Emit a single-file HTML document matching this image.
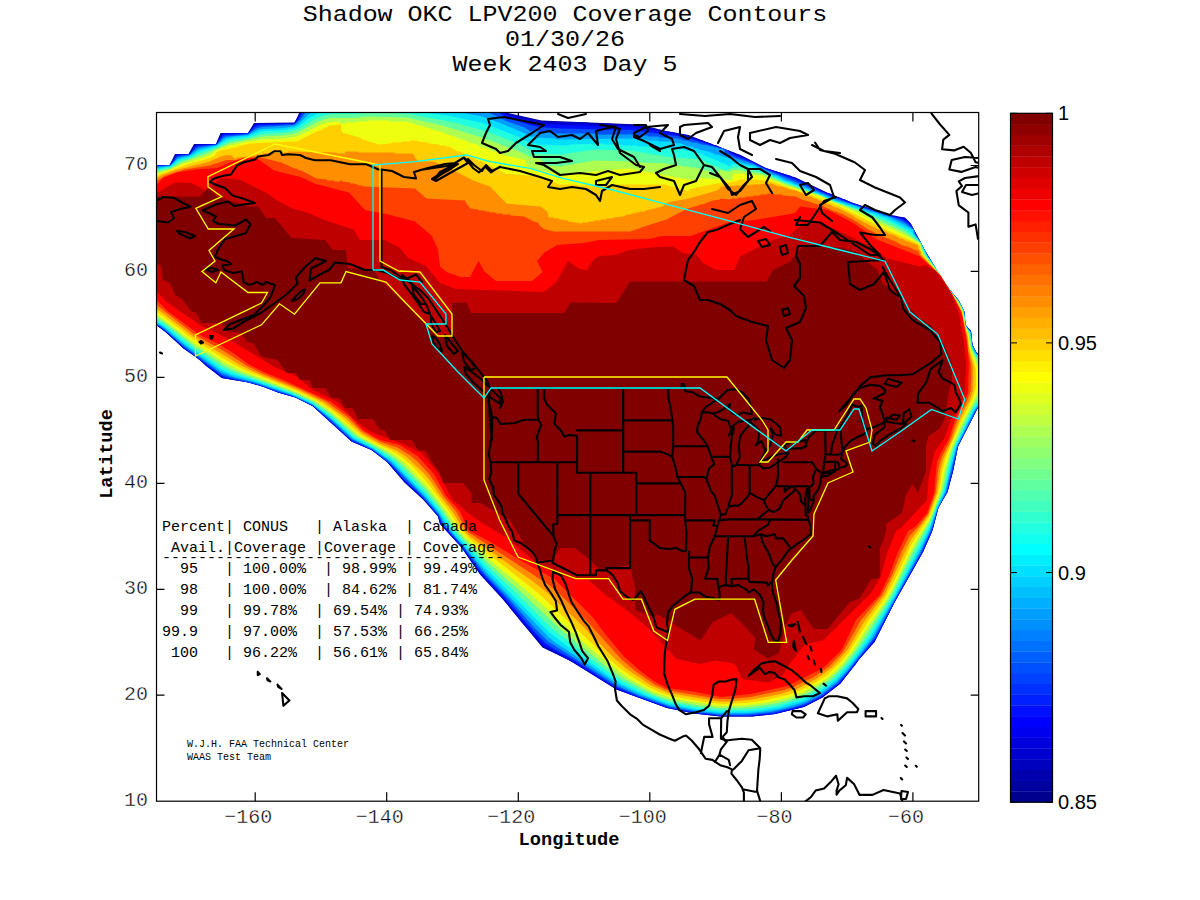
<!DOCTYPE html><html><head><meta charset="utf-8"><style>html,body{margin:0;padding:0;background:#fff;width:1200px;height:900px;overflow:hidden}svg{display:block}text{font-family:"Liberation Mono",monospace}</style></head><body><svg width="1200" height="900" viewBox="0 0 1200 900"><rect width="1200" height="900" fill="#fff"/><path d="M255.2 801.2v-9M255.2 112.5v9M386.7 801.2v-9M386.7 112.5v9M518.3 801.2v-9M518.3 112.5v9M649.8 801.2v-9M649.8 112.5v9M781.4 801.2v-9M781.4 112.5v9M912.9 801.2v-9M912.9 112.5v9M156.5 695.2h8M978.7 695.2h-8M156.5 589.3h8M978.7 589.3h-8M156.5 483.3h8M978.7 483.3h-8M156.5 377.4h8M978.7 377.4h-8M156.5 271.4h8M978.7 271.4h-8M156.5 165.5h8M978.7 165.5h-8" stroke="#000" stroke-width="1.2" fill="none"/><defs><clipPath id="ax"><rect x="156.5" y="112.5" width="822.2" height="688.7"/></clipPath></defs><g clip-path="url(#ax)"><path fill-rule="evenodd" fill="#00008F" d="M140.0,165.0 140.0,325.5 157.5,326.0 165.5,332.0 183.5,348.5 194.5,356.0 221.5,378.0 248.5,382.5 264.0,387.0 278.0,392.5 295.5,397.5 312.5,406.0 351.5,441.5 371.5,450.0 387.0,462.0 403.5,481.5 423.5,500.0 438.0,516.5 440.0,524.0 461.0,547.0 480.5,575.0 502.5,599.0 542.5,647.5 569.5,660.5 616.5,689.5 667.0,708.0 694.0,713.5 720.5,716.5 752.0,716.5 775.0,714.0 804.0,707.0 822.5,697.5 840.5,683.5 859.0,659.5 874.5,642.0 894.5,602.5 923.0,552.0 932.5,530.5 938.5,507.5 947.5,492.0 953.0,471.5 958.0,446.5 977.5,408.5 990.0,400.0 990.0,360.0 976.5,352.5 972.5,345.0 971.0,331.0 965.5,325.0 964.5,312.0 958.5,300.0 949.5,289.5 939.5,274.5 924.5,249.5 910.5,223.0 905.0,217.5 889.5,215.0 852.0,202.5 827.0,192.5 795.5,177.5 766.0,168.0 740.5,155.0 688.5,135.0 666.5,131.0 639.0,124.5 541.5,120.5 505.5,112.5 505.0,100.0 300.0,100.0 299.0,113.5 294.5,122.5 254.0,123.0 248.0,133.0 220.5,133.0 216.0,144.0 194.0,144.0 188.5,154.0 175.0,154.0 169.5,165.0Z"/><path fill-rule="evenodd" fill="#0000CF" d="M140.5,166.5 140.5,323.5 142.0,325.0 157.5,326.0 165.5,332.0 183.5,348.5 200.5,360.5 206.0,366.0 222.0,378.0 248.5,382.5 264.0,387.0 278.0,392.5 295.5,397.5 312.5,406.0 351.5,441.5 371.5,450.0 387.0,462.0 404.0,481.0 404.0,482.0 423.0,499.0 438.0,516.5 440.0,524.0 462.0,548.0 472.0,563.0 475.0,566.0 479.0,573.0 503.0,599.0 523.0,624.0 543.0,647.0 571.5,661.5 616.5,689.5 667.0,708.0 694.0,713.5 720.5,716.5 752.0,716.5 775.0,714.0 804.0,707.0 822.5,697.5 840.5,683.5 859.0,659.5 874.5,642.0 894.5,602.5 923.0,552.0 932.5,530.5 938.5,507.5 947.5,492.0 953.0,471.5 958.0,446.5 977.5,408.5 990.0,400.0 990.0,360.5 976.5,352.5 972.5,345.0 971.0,331.0 965.5,325.0 964.5,312.0 958.5,300.0 949.5,289.5 939.5,274.5 924.5,249.5 911.0,224.0 905.5,218.5 902.5,217.0 898.0,217.0 897.0,216.0 888.5,215.0 887.5,214.0 852.5,203.0 844.0,199.0 842.0,199.0 841.5,198.0 837.0,197.0 829.0,193.0 827.0,193.0 794.0,177.0 792.0,177.0 791.0,176.0 765.5,168.0 738.0,154.0 736.0,154.0 733.0,152.0 731.0,152.0 715.5,145.0 713.5,145.0 710.0,143.0 705.0,142.0 702.0,140.0 700.0,140.0 687.0,135.0 656.5,129.5 655.0,128.5 651.5,128.5 650.0,127.5 646.5,127.5 640.5,125.5 633.0,125.5 631.5,124.5 613.0,124.5 611.0,123.5 590.0,123.5 588.0,122.5 542.0,121.5 506.0,113.0 505.0,112.0 505.0,108.5 503.0,103.5 501.0,102.0 497.0,101.0 442.5,100.0 306.5,100.5 304.0,101.0 301.5,103.0 298.0,117.5 294.0,123.0 254.5,123.5 248.0,133.0 223.0,133.0 220.5,134.5 216.0,144.0 194.5,144.5 189.0,154.0 175.5,154.5 171.0,164.0 169.5,165.0 143.5,165.0Z"/><path fill-rule="evenodd" fill="#0010FF" d="M141.5,168.0 140.0,176.0 140.0,310.5 140.5,317.0 142.0,322.0 146.0,324.5 155.0,325.0 158.0,326.0 168.5,334.0 183.5,348.0 196.0,356.5 205.5,365.0 221.5,377.0 228.5,379.0 232.5,379.0 233.5,380.0 237.0,380.0 238.5,381.0 242.5,381.0 259.5,385.5 278.0,392.5 295.5,397.5 313.5,406.5 351.5,441.0 372.5,450.5 386.5,461.0 404.5,481.5 424.0,499.5 438.5,516.5 441.5,525.0 463.0,548.5 480.5,573.5 508.0,603.5 529.0,629.0 544.0,645.5 571.5,660.5 612.5,686.5 629.0,694.0 667.5,708.0 671.0,708.0 672.5,709.0 676.0,709.0 677.5,710.0 681.0,710.0 692.5,713.0 697.0,713.0 698.5,714.0 706.0,714.0 707.5,715.0 715.0,715.0 716.5,716.0 755.5,716.0 757.5,715.0 774.5,714.0 805.5,706.0 822.5,697.0 840.5,683.0 856.0,664.0 859.5,658.5 875.0,640.5 896.0,599.5 923.0,552.0 931.0,534.0 938.5,507.5 947.5,492.0 953.5,469.0 958.0,446.5 977.5,408.5 987.0,401.5 989.5,398.0 989.5,362.5 986.5,359.0 978.0,354.0 974.5,349.5 972.0,342.5 971.0,331.0 965.5,325.0 964.5,312.0 958.5,300.0 949.5,289.5 939.5,274.5 925.5,251.5 911.0,224.5 906.0,220.0 902.0,218.0 892.5,216.5 847.5,201.5 825.0,192.5 794.0,178.0 764.5,168.0 750.0,160.5 734.0,154.0 728.0,150.0 726.0,150.0 723.0,148.0 721.0,148.0 688.0,136.5 642.0,128.0 627.5,126.5 565.0,125.0 541.0,123.5 508.5,115.5 505.5,114.0 502.0,109.0 498.5,106.0 493.5,104.0 486.5,103.0 423.0,101.0 315.5,101.5 309.0,102.5 305.5,104.0 303.0,106.5 296.0,122.0 293.5,123.5 258.0,124.0 254.5,125.5 248.5,133.0 223.5,134.0 220.5,136.5 216.5,144.0 197.0,145.0 193.5,147.5 189.5,154.0 176.5,155.0 173.5,158.5 170.5,165.0 147.0,165.5Z"/><path fill-rule="evenodd" fill="#0050FF" d="M143.0,169.0 141.0,173.5 140.0,180.0 140.0,305.5 141.5,316.0 143.0,320.0 148.0,323.5 159.0,326.0 167.0,332.0 183.5,347.0 221.5,375.5 227.0,377.5 259.5,385.0 278.0,392.0 292.5,396.0 313.5,406.0 352.0,440.5 372.5,450.0 392.0,465.5 404.5,480.0 420.5,495.0 438.5,515.5 442.0,524.0 462.0,546.5 481.0,572.0 503.5,596.0 533.5,631.0 545.0,643.0 555.5,650.0 573.0,659.5 615.0,686.5 639.5,697.0 669.0,707.5 700.5,713.5 706.0,713.5 718.5,715.5 750.5,715.5 774.0,713.0 805.0,705.0 822.0,696.0 839.0,683.0 875.0,638.5 896.0,598.5 922.0,552.0 931.5,531.0 938.0,508.5 947.0,492.0 958.0,446.0 977.0,409.0 987.0,399.5 988.5,396.0 988.5,364.0 985.5,359.5 977.0,353.5 972.5,345.5 971.0,331.5 965.5,325.0 964.5,312.0 959.0,301.0 949.5,289.5 939.5,274.5 925.5,251.5 917.0,235.5 915.0,233.5 914.5,230.5 909.0,224.0 902.0,219.5 851.5,203.5 826.5,194.0 795.5,180.0 765.5,169.0 752.5,162.5 735.0,156.0 730.0,153.5 728.5,152.0 728.5,150.5 726.0,150.5 723.0,148.0 720.0,148.0 690.5,139.0 677.0,136.0 630.0,130.0 559.5,128.5 539.0,127.0 531.5,125.5 509.5,118.5 505.0,116.5 494.0,109.0 486.5,107.0 475.0,105.5 411.0,102.5 323.0,103.0 315.0,104.0 307.0,107.0 304.0,110.0 298.0,120.5 294.0,124.0 259.0,125.5 254.5,127.5 248.5,133.5 225.5,135.0 223.0,136.0 216.0,144.5 198.5,146.0 196.0,147.0 189.5,154.5 181.0,155.0 176.5,156.5 170.5,165.0 148.0,166.5Z"/><path fill-rule="evenodd" fill="#009FFF" d="M144.0,170.5 142.0,174.0 140.0,182.5 140.0,303.0 142.0,313.0 144.0,318.0 147.0,321.0 156.5,324.0 161.0,326.5 184.0,346.0 222.0,374.0 234.0,378.0 252.0,382.0 297.5,397.5 312.5,405.0 330.0,419.0 351.5,439.0 372.0,449.0 387.5,460.0 424.0,497.0 439.5,515.5 443.5,524.0 464.5,548.0 484.5,573.5 509.0,599.0 534.5,628.0 547.5,641.0 617.5,686.0 637.5,695.0 669.5,706.5 698.0,712.0 720.0,714.5 745.0,714.5 771.5,712.0 794.0,707.0 806.0,703.0 821.0,695.0 836.5,683.5 848.0,671.0 874.0,637.5 921.0,551.5 932.0,527.5 938.0,507.5 946.0,492.5 957.0,447.0 975.0,411.0 978.0,406.5 985.0,399.5 987.0,395.0 988.0,388.5 987.5,366.5 985.0,361.0 977.0,354.0 972.0,345.0 972.0,339.5 971.0,338.0 971.0,332.5 965.5,325.5 964.0,311.0 959.0,301.0 949.5,289.5 928.0,256.5 921.5,243.5 915.0,234.5 914.0,230.0 904.0,222.5 893.5,218.0 836.0,199.0 762.0,168.5 753.5,164.0 733.5,157.5 725.5,153.0 723.0,148.5 718.5,148.5 718.0,147.5 715.0,147.5 714.0,146.5 710.0,146.5 709.0,145.5 701.0,144.5 696.0,142.5 692.0,142.5 687.0,140.5 683.0,140.5 678.0,138.5 659.5,137.5 658.5,136.5 648.5,136.5 647.5,135.5 636.5,135.5 635.5,134.5 596.5,134.5 595.5,133.5 553.5,133.5 552.5,132.5 538.5,132.5 537.5,131.5 530.5,131.5 524.5,127.5 506.0,121.0 490.0,113.0 479.5,110.5 464.5,108.5 405.0,104.5 328.5,105.0 317.5,106.5 309.5,109.5 304.0,114.5 300.5,119.5 294.0,125.0 261.5,127.0 255.5,129.0 247.5,134.5 226.0,136.5 223.0,138.0 217.0,144.5 199.0,147.5 196.0,149.0 189.5,155.0 177.5,157.5 170.5,165.5 152.0,167.0 148.0,168.0Z"/><path fill-rule="evenodd" fill="#00DFFF" d="M144.0,173.0 140.0,183.5 140.0,302.0 145.0,316.0 150.0,320.5 157.0,323.0 163.5,327.0 185.5,345.5 220.5,371.0 234.0,376.5 258.5,383.0 291.5,394.5 313.0,404.5 332.5,420.0 353.5,439.0 373.5,449.0 391.0,461.5 427.0,498.5 439.0,513.0 444.0,522.0 452.0,532.5 485.5,571.5 549.0,637.5 556.0,643.0 617.0,683.5 639.0,694.0 669.0,705.0 700.0,711.0 717.5,713.0 748.5,713.0 764.0,711.5 779.5,709.0 804.0,702.0 819.5,694.0 837.0,681.0 847.5,669.5 871.5,638.5 896.5,594.5 919.5,551.5 929.5,531.0 937.5,507.5 945.0,492.5 956.5,446.5 974.0,411.0 983.0,399.5 985.5,394.0 986.5,387.5 986.0,367.5 983.5,361.5 976.0,353.5 972.5,347.0 970.5,332.5 965.5,325.5 964.0,311.5 959.0,301.5 948.5,288.5 933.0,263.5 928.0,257.0 921.0,243.0 913.5,233.5 913.0,229.5 887.0,216.5 885.0,216.5 875.0,212.5 872.0,212.5 850.5,204.5 847.5,204.5 846.5,203.5 835.5,200.5 832.5,198.5 830.5,198.5 827.5,196.5 825.5,196.5 822.5,194.5 820.5,194.5 817.5,192.5 815.5,192.5 812.5,190.5 810.5,190.5 807.5,188.5 805.5,188.5 802.5,186.5 800.5,186.5 797.5,184.5 795.5,184.5 792.5,182.5 785.5,180.5 776.5,175.5 774.5,175.5 754.0,165.5 744.0,163.5 736.0,160.5 733.0,160.5 730.0,158.5 728.5,158.5 728.0,157.5 724.5,157.5 724.0,156.5 721.5,156.5 718.5,154.5 715.5,154.5 708.5,151.5 698.5,149.5 697.5,148.5 695.5,148.5 691.5,146.5 688.5,146.5 681.0,143.5 671.0,142.5 670.0,141.5 659.0,141.5 658.0,140.5 648.0,140.5 647.0,139.5 636.0,139.5 635.0,138.5 556.5,139.5 555.5,138.5 536.0,137.5 535.0,136.5 530.0,136.5 523.0,132.5 490.0,119.0 480.0,116.0 463.5,113.0 424.5,108.5 402.5,107.0 332.0,107.5 315.5,110.5 309.0,114.0 298.5,124.0 294.0,126.5 283.5,128.0 262.5,129.0 257.0,130.5 247.5,135.5 234.5,136.5 225.5,138.5 216.5,145.5 199.0,149.5 189.0,156.0 181.0,157.5 177.0,159.5 170.0,166.0 151.5,168.5 147.5,170.0Z"/><path fill-rule="evenodd" fill="#20FFDF" d="M144.0,175.5 140.0,184.0 140.0,301.5 142.5,308.0 147.0,315.5 150.5,318.5 163.5,325.5 186.0,344.0 221.0,369.0 230.5,373.5 248.0,378.5 292.5,394.0 311.0,402.5 329.5,416.0 353.5,437.5 374.5,448.5 392.0,460.5 426.0,495.0 440.0,512.0 453.0,531.5 485.5,568.0 549.5,632.5 569.0,647.5 606.5,674.0 621.5,683.5 648.0,696.0 667.5,703.0 694.0,708.5 717.5,711.5 746.0,711.5 762.0,710.0 780.0,707.0 802.5,700.5 820.0,691.5 836.0,679.5 852.0,661.5 870.5,636.5 895.0,594.5 925.0,537.5 931.0,524.5 938.0,504.5 944.5,491.0 951.5,460.5 956.0,445.5 972.5,411.5 981.5,398.5 984.0,392.0 985.0,383.5 984.0,367.0 982.5,363.0 974.5,352.5 972.0,347.0 970.0,332.5 965.5,326.0 965.0,317.0 964.0,315.5 963.5,311.0 959.0,302.0 948.5,288.5 939.0,273.0 927.5,257.0 922.5,248.0 921.0,243.5 910.5,231.0 886.5,218.5 835.0,201.0 822.0,195.0 820.0,195.0 811.5,191.0 783.0,180.5 753.5,167.5 738.0,164.0 732.5,164.0 729.5,166.5 724.5,163.5 722.5,163.5 717.5,160.5 704.0,155.5 701.0,153.5 693.0,152.5 692.0,151.5 684.0,150.5 683.0,149.5 679.0,149.5 678.0,148.5 654.5,147.5 653.5,146.5 638.5,146.5 637.5,145.5 622.5,145.5 621.5,144.5 604.5,144.5 603.5,143.5 569.5,144.5 568.5,145.5 538.0,144.5 537.0,143.5 530.5,143.5 519.0,137.0 482.5,123.0 450.5,116.0 415.0,111.0 402.0,110.0 371.0,109.5 334.0,110.5 325.5,111.5 316.5,114.0 308.5,118.5 299.0,126.0 293.5,128.5 285.0,130.0 264.5,131.0 258.0,132.5 246.5,137.0 232.5,138.5 227.0,140.0 215.0,147.0 200.5,151.0 191.0,156.5 180.0,159.5 170.5,166.5 150.5,170.5Z"/><path fill-rule="evenodd" fill="#60FF9F" d="M143.0,179.0 140.0,184.5 140.0,301.0 146.5,312.0 150.5,316.0 164.0,324.0 191.5,346.0 222.0,367.0 237.5,374.0 255.5,379.5 292.5,393.0 313.0,402.5 331.5,416.0 354.5,436.5 371.5,445.5 389.5,456.5 397.5,463.0 424.0,490.0 438.5,507.5 455.5,532.0 469.5,547.5 495.0,573.5 511.0,588.0 553.0,629.5 605.0,669.5 620.5,680.0 644.5,692.5 670.0,702.0 699.0,707.5 720.0,710.0 739.0,710.0 758.5,708.5 779.5,705.0 801.5,698.5 820.0,689.0 833.0,679.5 848.5,663.0 868.0,636.5 892.5,596.0 930.0,524.0 936.5,506.0 942.0,494.5 945.0,484.5 949.5,463.0 954.5,446.5 973.0,408.0 978.5,400.0 981.5,393.5 983.0,384.5 983.0,373.0 982.0,367.0 979.5,361.0 974.5,354.0 972.0,348.5 969.5,333.0 965.0,325.0 965.0,319.0 963.0,310.5 958.5,301.5 952.0,293.5 939.0,273.0 925.5,255.0 920.5,243.0 906.0,230.5 888.0,221.5 855.5,208.5 835.0,201.5 819.0,194.5 785.0,182.5 766.5,174.0 754.5,170.0 742.5,167.5 734.0,167.0 725.5,170.5 725.0,169.5 722.5,169.5 717.5,166.5 713.0,165.5 701.0,159.5 663.5,156.5 662.5,155.5 651.0,154.5 650.0,153.5 645.0,153.5 644.0,152.5 639.0,152.5 638.0,151.5 633.0,151.5 632.0,150.5 592.5,149.5 591.5,150.5 585.5,150.5 584.5,151.5 578.5,151.5 577.5,152.5 571.5,152.5 570.5,153.5 564.5,153.5 563.5,154.5 531.5,153.5 529.0,149.5 518.0,143.5 489.5,132.5 457.0,123.0 409.5,114.0 392.5,113.0 365.5,113.0 354.0,114.0 333.0,114.0 326.0,115.0 315.5,118.5 301.5,127.5 295.0,130.5 284.5,132.5 262.0,134.0 249.0,138.0 230.0,141.0 215.5,148.0 198.5,154.0 191.0,158.0 180.5,161.0 171.5,167.0 152.5,171.5 146.5,175.0Z"/><path fill-rule="evenodd" fill="#AFFF50" d="M140.0,185.0 140.0,300.5 145.0,307.5 151.5,314.0 165.5,323.0 192.0,344.0 223.5,365.0 235.5,371.0 293.0,392.0 312.5,401.0 329.5,412.5 356.5,436.0 386.5,452.5 394.0,457.5 404.0,466.0 426.0,489.0 442.0,509.0 451.5,523.5 461.5,536.5 489.0,563.5 524.5,595.0 560.0,629.0 605.0,665.5 622.5,678.0 651.5,693.5 663.0,698.0 674.0,701.0 698.5,705.5 718.5,708.0 747.5,707.5 775.5,703.5 793.0,699.0 810.0,692.0 829.5,679.5 842.5,667.0 858.5,646.5 889.5,598.0 913.0,551.5 930.0,521.0 942.5,489.0 946.5,469.0 952.5,448.5 965.0,420.5 978.5,395.5 980.0,390.5 981.0,382.5 980.0,367.5 971.0,347.5 969.0,333.5 965.0,325.5 963.0,311.5 955.5,297.5 949.0,289.5 939.5,274.0 925.0,255.5 921.5,248.5 920.5,243.5 904.0,232.0 858.5,211.0 834.5,202.0 821.5,196.0 784.5,183.5 762.5,174.0 739.0,170.0 732.5,170.0 728.5,172.0 720.0,170.0 716.5,173.5 714.5,173.5 707.5,170.5 705.0,170.5 701.0,168.5 697.0,168.5 696.0,167.5 690.0,167.5 689.0,166.5 683.0,166.5 682.0,165.5 676.0,165.5 675.0,164.5 669.0,164.5 668.0,163.5 639.5,162.5 638.5,161.5 593.0,160.5 592.0,161.5 587.0,161.5 586.0,162.5 581.0,162.5 580.0,163.5 575.0,163.5 574.0,164.5 569.0,164.5 568.0,165.5 563.0,165.5 562.0,166.5 546.5,165.5 544.5,164.5 543.5,162.0 539.0,158.5 529.5,156.5 516.0,150.0 478.5,136.5 442.5,125.5 406.5,117.5 369.0,116.5 354.0,118.0 330.0,118.0 319.5,121.0 299.0,132.0 293.0,134.0 282.5,135.5 263.5,136.5 229.0,143.5 204.5,154.5 182.5,162.0 170.5,168.5 153.5,173.0 146.0,177.5Z"/><path fill-rule="evenodd" fill="#EFFF10" d="M140.0,185.0 140.0,300.0 146.5,307.0 190.0,340.0 223.5,362.0 240.0,370.5 295.0,391.5 315.0,401.0 329.5,410.5 360.0,436.5 388.5,451.5 397.0,457.0 404.5,463.0 427.5,487.0 446.0,511.0 456.5,527.0 464.0,536.5 490.5,560.5 529.5,593.0 575.5,635.5 607.0,662.5 628.0,678.0 654.5,692.5 674.5,699.0 719.5,706.0 744.5,705.5 767.5,702.5 787.5,698.0 804.0,692.0 823.5,681.0 833.0,673.5 840.0,666.5 853.0,650.5 868.0,626.5 886.5,599.5 894.0,586.0 914.5,544.0 927.5,523.0 931.5,515.0 940.5,491.0 944.5,470.0 950.5,450.0 960.5,426.5 975.0,398.5 977.5,391.5 978.5,385.5 978.0,368.0 970.5,348.5 968.5,334.5 965.0,326.0 964.0,317.0 962.0,310.0 955.5,298.0 948.5,289.0 940.5,275.5 923.5,254.5 921.0,249.0 920.0,243.5 909.5,237.5 889.5,227.5 877.0,222.5 854.0,210.5 852.0,210.5 840.0,204.5 833.0,202.5 821.0,196.5 785.5,185.5 777.0,181.5 775.0,181.5 772.0,179.5 770.0,179.5 767.0,177.5 765.0,177.5 762.0,175.5 746.0,174.5 745.0,173.5 736.0,173.5 733.5,172.5 732.5,178.0 730.5,180.0 700.0,178.0 692.5,180.5 691.5,179.5 686.5,179.5 685.5,178.5 680.5,178.5 679.5,177.5 674.5,177.5 673.5,176.5 668.5,176.5 667.5,175.5 663.5,175.5 662.5,174.5 658.5,174.5 657.5,173.5 653.0,173.5 652.0,172.5 648.0,172.5 647.0,171.5 643.0,171.5 642.0,170.5 638.0,170.5 637.0,169.5 633.0,169.5 632.0,168.5 613.5,169.5 612.5,170.5 601.5,170.5 600.5,171.5 591.5,171.5 590.5,172.5 582.5,172.5 581.5,173.5 574.5,173.5 573.5,174.5 565.0,174.5 564.0,175.5 560.5,175.5 553.5,173.0 531.0,168.5 526.5,165.0 525.5,162.5 526.0,160.5 525.0,159.5 521.0,159.5 520.0,158.5 505.0,155.5 499.0,152.5 491.0,150.5 488.0,148.5 480.0,146.5 477.0,144.5 469.0,142.5 466.0,140.5 458.0,138.5 455.0,136.5 447.0,134.5 444.0,132.5 442.0,132.5 438.0,130.5 435.0,130.5 428.0,127.5 425.0,127.5 421.0,125.5 418.0,125.5 411.0,122.5 408.0,122.5 407.0,121.5 390.0,121.5 389.0,120.5 368.5,120.5 367.5,121.5 357.5,121.5 356.5,122.5 345.5,122.5 345.0,123.5 340.5,123.5 338.5,121.5 329.0,122.0 321.5,124.5 300.5,135.0 293.0,137.5 279.5,139.0 262.5,139.5 248.0,141.5 228.0,146.0 216.5,150.0 212.5,153.5 207.5,156.0 181.0,164.5 171.0,169.5 156.0,174.0 146.5,179.0Z"/><path fill-rule="evenodd" fill="#FFCF00" d="M140.0,185.0 140.5,301.0 162.0,315.5 192.5,339.0 226.5,360.5 245.5,370.5 296.0,390.5 317.0,400.5 333.0,411.0 359.5,434.0 372.0,441.5 393.0,451.5 400.0,456.0 410.5,464.5 424.0,478.5 450.0,512.5 461.5,530.5 469.0,538.5 538.5,593.5 600.0,651.0 619.0,667.5 637.5,680.5 648.5,687.0 660.0,692.5 673.5,696.5 705.0,702.0 722.5,704.0 745.5,703.0 763.5,700.5 788.0,695.0 807.0,687.5 826.0,676.0 839.5,663.5 848.0,653.5 870.0,618.5 884.5,599.0 894.0,581.5 912.5,542.5 930.0,515.5 938.5,493.0 943.0,468.0 947.0,454.5 960.0,423.5 973.0,398.0 976.0,386.5 976.0,369.0 969.5,347.5 967.5,333.0 965.0,327.0 962.0,311.0 956.0,299.5 946.5,286.0 940.5,275.5 923.0,255.5 920.0,248.5 920.5,246.5 917.5,243.5 880.5,227.0 838.5,206.0 802.0,191.5 800.0,191.5 771.5,181.5 758.0,179.5 740.5,179.5 731.0,182.5 719.5,183.0 695.5,187.5 689.5,189.5 688.0,191.5 683.5,189.5 677.0,188.5 673.0,186.5 670.0,186.5 666.0,184.5 613.5,184.5 612.5,185.5 578.0,185.5 577.0,184.5 559.0,184.5 546.0,178.5 544.5,179.5 541.5,179.5 539.5,176.5 505.5,173.5 482.0,161.5 480.0,161.5 471.0,156.5 469.0,156.5 460.0,151.5 458.0,151.5 449.0,146.5 446.0,146.5 445.0,145.5 440.0,145.5 439.0,144.5 429.0,143.5 428.0,142.5 418.0,141.5 417.0,140.5 411.0,140.5 410.0,141.5 402.0,141.5 401.0,142.5 392.0,142.5 391.0,143.5 377.5,144.5 376.5,143.5 362.5,139.5 359.5,137.5 342.5,132.5 341.5,131.0 341.0,124.5 336.5,124.5 336.0,125.5 329.5,125.5 327.0,127.5 325.5,127.5 320.5,130.5 318.5,130.5 296.5,141.5 248.5,143.5 247.5,144.5 244.5,144.5 243.5,145.5 240.5,145.5 235.5,147.5 231.5,147.5 230.5,148.5 219.5,150.5 217.5,151.5 214.0,156.0 210.0,158.0 187.0,164.5 160.5,174.0 146.0,181.0Z"/><path fill-rule="evenodd" fill="#FF8F00" d="M140.0,185.0 140.5,300.5 155.5,307.5 194.5,337.5 241.0,365.5 261.0,375.0 299.5,390.5 324.0,402.5 345.0,418.0 362.5,434.0 379.5,443.5 397.5,451.0 406.5,457.0 424.0,473.5 430.5,481.5 440.5,496.5 452.5,511.5 464.5,531.0 469.5,536.0 535.0,583.0 547.0,592.5 576.5,620.0 615.5,659.5 627.5,669.5 651.0,685.5 668.5,693.0 719.5,701.5 731.0,701.5 752.5,699.5 780.5,694.0 797.5,688.5 816.5,679.0 832.5,667.0 847.5,650.0 864.5,621.0 884.5,595.0 910.5,540.5 928.5,515.5 937.0,493.0 940.5,470.0 943.5,458.5 952.5,439.0 960.0,419.0 970.0,399.5 973.0,390.5 973.5,366.5 969.0,349.5 967.5,337.0 961.5,311.0 955.0,298.5 940.5,275.5 921.0,254.5 920.5,251.0 918.5,248.5 918.0,245.5 914.0,243.5 912.0,243.5 909.0,241.5 907.0,241.5 902.0,238.5 900.0,238.5 895.0,235.5 888.0,233.5 883.0,230.5 876.0,228.5 855.0,217.5 853.0,215.5 837.0,207.5 835.0,207.5 830.0,204.5 828.0,204.5 821.0,200.5 819.0,200.5 816.0,198.5 814.0,198.5 811.0,196.5 809.0,196.5 796.0,190.5 790.0,189.5 782.0,186.5 779.0,186.5 771.0,183.5 721.0,186.5 720.5,188.0 717.0,190.5 687.0,199.0 671.5,201.5 665.0,204.0 663.0,206.5 661.0,206.5 660.0,207.5 657.0,207.5 656.0,208.5 653.0,208.5 652.0,209.5 649.0,209.5 644.0,211.5 640.0,211.5 639.0,212.5 636.0,212.5 635.0,213.5 632.0,213.5 631.0,214.5 628.0,214.5 623.0,216.5 613.0,217.5 612.0,218.5 607.0,218.5 606.0,219.5 601.0,219.5 600.0,220.5 595.0,220.5 594.0,221.5 589.0,221.5 588.0,222.5 583.0,222.5 582.0,223.5 568.5,221.5 567.5,220.5 559.5,219.5 558.5,218.5 554.5,218.5 553.5,217.5 549.5,217.5 548.0,216.0 548.5,214.5 547.0,211.5 540.5,206.5 506.5,203.5 490.0,186.5 473.0,180.5 450.0,168.5 448.0,168.5 434.0,161.5 418.5,161.5 415.0,157.5 413.0,153.5 395.0,153.5 394.0,152.5 359.0,152.5 358.0,151.5 345.5,151.5 345.0,153.5 337.5,153.5 336.5,152.5 288.5,151.5 287.5,152.5 263.0,153.5 262.0,154.5 257.0,154.5 256.0,155.5 249.5,155.5 249.0,156.5 236.5,157.5 236.0,158.5 234.5,158.5 232.0,155.5 226.5,155.0 222.0,156.0 208.5,162.0 176.0,170.0 162.5,175.0 152.5,180.5Z"/><path fill-rule="evenodd" fill="#FF4000" d="M140.0,185.0 140.5,300.5 155.5,304.0 192.5,333.0 200.0,338.0 220.5,349.0 248.0,366.5 263.5,374.0 300.0,389.0 327.0,402.0 348.0,417.5 361.5,431.0 380.5,442.0 397.5,447.5 409.5,455.0 416.5,460.5 429.5,474.5 444.0,497.0 456.5,512.0 465.0,528.0 468.0,532.0 549.0,585.0 559.5,594.0 584.5,618.5 621.0,659.0 634.5,670.5 654.5,684.5 668.0,690.5 719.5,699.0 729.5,699.0 750.5,697.0 784.0,690.0 793.0,687.0 813.0,677.5 828.5,667.0 843.0,652.0 861.0,620.0 882.0,595.0 892.0,575.0 900.5,554.0 909.5,536.0 918.5,526.5 928.0,514.0 935.5,493.0 938.5,468.0 941.0,459.0 951.0,438.5 956.0,423.0 966.5,402.0 970.5,391.5 971.5,371.5 971.0,363.5 968.0,350.0 967.0,338.0 961.5,312.0 955.5,300.0 940.5,275.5 920.5,256.0 918.0,250.5 916.0,250.5 907.5,246.5 902.5,245.5 895.5,241.5 880.5,235.5 866.5,228.5 854.5,220.5 841.5,213.5 839.5,213.5 836.5,211.5 834.5,211.5 821.5,205.5 802.0,199.5 796.0,196.5 783.0,195.5 782.0,194.5 775.0,194.5 774.0,193.5 767.5,193.5 766.5,194.5 760.5,194.5 759.5,195.5 753.5,195.5 752.5,196.5 746.5,196.5 745.5,197.5 738.5,197.5 737.5,198.5 731.0,198.5 730.0,199.5 720.5,198.5 720.0,199.5 712.5,200.5 702.5,204.5 699.5,204.5 698.5,205.5 687.5,208.5 666.5,219.5 641.0,227.5 640.0,228.5 638.0,228.5 637.0,229.5 635.0,229.5 634.0,230.5 632.0,230.5 631.0,231.5 554.0,231.5 544.0,229.0 540.0,226.0 538.0,222.5 534.0,221.5 524.0,216.5 511.0,215.5 510.0,214.5 503.0,214.5 502.0,213.5 496.0,213.5 495.0,212.5 490.0,212.5 489.0,211.5 485.0,211.5 484.0,210.5 479.0,210.5 478.0,209.5 470.5,208.5 467.0,204.5 465.0,200.5 426.5,198.5 415.0,188.5 363.5,186.5 362.5,185.5 359.5,185.5 354.5,183.5 350.5,183.5 350.0,182.5 342.5,181.5 342.0,180.5 340.5,180.5 340.0,181.5 334.5,181.5 333.5,180.5 327.5,180.5 326.5,179.5 316.5,178.5 301.5,170.5 299.5,170.5 296.5,168.5 294.5,168.5 281.5,162.5 259.0,157.0 244.5,157.5 236.0,160.0 226.5,160.0 209.5,165.5 184.5,169.5 164.5,176.0 154.5,182.5Z"/><path fill-rule="evenodd" fill="#FF0000" d="M140.0,185.0 140.0,300.0 156.5,300.0 167.5,311.0 199.0,334.5 218.5,344.0 234.0,353.5 249.0,364.5 266.0,373.0 283.5,380.0 331.0,402.0 349.0,415.5 363.5,430.5 380.0,440.0 399.0,444.5 417.5,456.0 433.5,473.5 446.0,496.0 460.0,511.5 468.5,530.5 490.5,542.0 522.5,561.5 554.5,579.0 593.0,617.5 603.5,632.0 623.5,656.0 638.0,669.0 653.5,681.0 667.0,688.0 693.0,691.5 721.5,697.0 751.0,694.0 787.0,686.0 822.5,668.5 841.5,650.0 856.0,620.0 880.0,594.5 889.0,575.5 898.0,552.0 908.0,531.0 915.0,527.0 927.0,513.0 934.0,493.5 937.0,461.5 944.0,447.0 949.0,439.0 955.0,419.5 968.0,393.5 969.0,363.0 967.0,343.5 962.5,317.5 961.0,312.0 952.0,294.0 940.5,275.5 920.0,256.5 877.0,239.5 852.5,222.5 828.0,210.0 800.0,206.5 796.0,212.0 793.5,213.5 754.5,220.0 729.5,222.0 690.5,236.0 662.0,236.0 649.0,239.0 599.0,240.0 583.5,243.0 557.0,245.0 544.5,252.5 537.0,261.0 542.5,272.0 532.0,281.0 496.0,281.0 484.5,271.5 478.5,261.0 470.0,277.0 460.5,277.0 446.5,272.0 440.0,266.5 438.0,249.5 432.0,236.0 415.0,221.5 388.5,214.5 365.0,210.0 349.0,192.5 316.0,184.0 300.5,177.0 274.0,170.5 256.5,158.0 242.5,158.5 232.5,161.5 217.0,168.0 195.0,169.5 176.5,172.5 163.0,178.0 156.5,185.0Z"/><path fill-rule="evenodd" fill="#BF0000" d="M140.0,193.0 140.0,291.5 156.5,291.5 167.0,302.0 199.0,324.5 229.5,339.5 274.5,367.0 284.0,371.0 286.5,373.0 290.0,373.5 296.5,376.5 313.0,390.0 336.5,401.5 357.0,422.0 372.0,432.5 388.5,438.5 390.0,440.0 392.5,440.0 400.5,443.0 421.5,453.0 438.5,473.5 452.5,499.5 466.0,511.5 480.5,522.0 507.0,538.0 538.5,565.0 567.0,577.5 588.0,579.5 605.0,594.5 629.0,612.0 648.0,628.0 676.5,659.0 699.5,664.0 716.0,660.5 733.5,663.5 735.5,665.0 742.0,678.5 744.5,679.5 768.5,682.5 782.5,675.5 790.5,663.0 805.0,644.0 823.0,640.5 871.5,592.5 880.5,577.0 887.5,552.0 896.5,530.0 901.5,527.5 927.0,500.0 928.5,479.0 934.5,452.0 944.5,438.0 950.5,421.0 956.0,412.0 965.0,393.5 966.0,363.0 964.0,343.5 959.0,313.5 952.0,294.0 936.0,271.0 925.5,265.0 919.5,266.5 887.5,258.5 869.5,246.0 837.0,230.0 820.5,223.0 803.0,223.0 790.0,235.0 774.0,239.5 740.0,256.5 734.5,270.0 716.5,270.0 703.5,263.5 696.5,255.0 683.0,253.0 673.0,246.5 650.0,247.5 629.5,250.0 615.5,255.0 599.5,256.0 594.0,259.0 586.5,270.5 579.0,268.5 568.0,261.0 556.5,282.0 544.0,292.0 455.5,289.0 440.0,283.0 426.0,266.0 408.0,258.0 399.5,247.5 384.5,240.0 360.0,240.0 353.5,229.5 324.5,220.0 308.5,213.0 292.5,208.5 277.0,200.5 267.5,193.5 240.5,180.0 221.5,178.0 205.0,190.0 191.5,183.0 175.0,182.5 156.5,193.0Z"/><path fill-rule="evenodd" fill="#800000" d="M140.0,196.5 140.0,263.0 156.5,263.0 161.0,266.0 163.0,280.0 169.0,282.5 170.5,284.0 175.0,295.0 182.5,299.5 191.5,311.5 195.5,312.5 197.0,314.0 201.5,323.0 221.5,323.0 228.0,331.5 241.5,333.0 246.5,341.5 253.5,343.5 261.5,356.5 278.0,360.0 286.5,373.0 296.0,373.0 300.0,380.0 309.5,380.0 313.0,388.0 325.0,388.0 331.5,398.0 339.5,398.0 345.0,408.0 352.5,408.0 358.0,419.0 373.0,419.0 380.0,430.0 384.5,430.0 390.0,440.0 411.5,440.0 418.0,450.0 425.5,450.5 432.5,462.5 439.5,472.0 443.0,483.0 463.0,483.0 471.5,493.0 471.5,503.0 480.0,503.0 509.5,519.5 524.5,544.5 538.5,561.0 553.0,559.0 560.0,548.0 575.0,548.0 589.0,559.0 600.0,570.0 629.5,565.0 630.5,566.5 635.0,589.0 635.0,610.0 653.5,617.0 658.0,614.5 700.5,640.5 713.0,622.0 731.0,613.0 744.5,626.0 755.5,638.5 753.5,649.5 768.0,658.5 779.0,653.0 786.0,624.5 791.5,613.5 800.5,610.0 814.0,629.0 827.5,629.0 850.0,602.0 859.5,598.5 871.0,579.5 880.0,578.0 880.0,547.5 883.5,540.5 886.0,530.5 886.0,524.0 902.0,513.0 906.0,494.5 912.5,484.0 918.0,493.0 926.0,471.0 926.0,445.5 928.5,436.0 938.5,429.5 944.5,420.0 948.5,393.5 952.0,379.5 952.0,363.5 945.0,346.0 937.0,335.5 931.5,325.5 920.5,319.0 908.5,306.5 900.5,300.5 893.0,289.5 884.5,285.5 882.5,283.0 877.5,270.0 866.0,261.0 857.5,252.0 840.5,247.5 803.0,246.5 789.5,262.0 773.0,270.0 766.5,281.5 630.0,281.5 616.5,303.0 570.5,302.5 564.0,313.0 471.0,313.0 466.5,302.5 452.0,303.0 452.0,335.5 438.0,336.0 402.0,300.0 379.5,279.5 374.0,270.0 348.5,268.0 347.5,265.5 346.0,250.0 333.0,250.0 325.0,240.0 291.5,238.0 275.0,218.0 266.5,218.0 258.0,206.5 249.5,206.5 217.5,197.0 208.0,188.0 200.0,196.5Z"/><path d="M500.0,166.5 491.0,172.5 485.0,166.5 479.0,172.5 473.0,168.0 468.5,162.0 464.0,157.5 455.0,163.0 445.0,164.0 428.0,168.0 414.0,172.0 416.0,178.5 404.0,177.0 392.0,171.0 381.5,169.5 378.5,169.5 366.5,164.2 350.0,164.2 332.0,160.5 330.0,160.2 315.0,160.2 306.0,158.0 300.0,155.0 288.0,154.2 282.0,155.0 280.5,151.2 274.5,151.2 268.5,155.0 258.0,156.5 255.0,159.5 243.0,162.5 237.0,165.5 231.0,174.5 222.0,176.0 213.0,179.0 210.0,182.0 214.5,184.2 225.0,188.0 232.5,195.5 243.0,198.5 255.0,203.0 243.0,204.5 234.0,206.0 228.0,201.5 216.0,204.5 202.5,210.5 210.0,213.5 216.0,216.5 213.0,221.0 219.0,224.0 235.5,225.5 246.0,219.5 250.5,224.0 246.0,233.0 231.0,237.5 225.0,239.0 219.0,248.0 216.0,254.0 215.0,256.5 221.0,259.5 227.0,261.0 231.5,264.0 222.5,265.5 224.0,270.0 233.0,273.0 242.0,271.5 243.5,282.0 249.5,285.0 257.0,282.0 263.0,285.0 266.0,282.0 275.0,285.0 270.5,297.0 263.0,306.0 254.0,315.0 242.0,319.5 230.0,324.0 224.0,330.0 233.0,328.5 245.0,321.0 260.0,313.5 275.0,303.0 287.0,294.0 297.5,283.5 296.0,277.5 305.0,267.0 315.5,258.0 326.0,261.0 311.0,268.5 309.5,280.5 320.0,274.5 329.0,270.0 335.0,262.5 350.0,264.0M150.0,203.0 157.5,200.0 163.5,197.0 174.0,197.8 183.0,203.0 190.5,206.8 180.0,209.0 171.0,212.0 174.0,218.0 168.0,222.5 157.5,221.0 150.0,219.0M177.0,231.0 185.0,232.0 195.0,236.0 190.0,238.5 180.0,234.0 177.0,231.0M201.0,341.0 203.0,342.5 201.0,343.5 199.5,342.0 201.0,341.0M210.0,336.0 213.0,336.0 211.5,339.0 210.0,336.0M292.0,301.0 296.0,296.0 301.0,291.0 305.0,289.5 303.0,294.0 298.0,299.0 292.0,301.0M205.0,269.0 212.0,268.0 218.0,270.0 212.0,272.0 205.0,269.0M434.0,180.0 440.0,175.0 452.0,168.0 458.0,164.0 452.0,166.0 440.0,172.0 434.0,180.0M381.5,169.5 381.5,261.0 381.5,267.0 390.5,270.0 404.0,279.0M350.0,264.0 365.0,270.0 377.0,270.0 387.5,273.0 402.5,280.5 416.0,274.5 422.0,282.0M404.0,279.0 412.0,284.0 420.0,290.0 428.0,298.0 436.0,310.0 446.0,325.0 455.0,340.0 463.0,352.0 472.0,362.0 480.0,372.0 487.0,381.0 490.0,388.0 489.0,400.0 490.0,420.0 492.0,440.0M432.0,336.0 436.0,338.0 440.0,345.0 442.0,351.0 437.0,348.0 433.0,342.0 432.0,336.0M464.0,367.0 472.0,372.0 482.0,380.0 492.0,390.0 500.0,398.0 501.0,404.0 494.0,400.0 484.0,392.0 474.0,383.0 466.0,374.0 464.0,367.0M498.0,388.0 501.0,393.0 503.0,402.0 500.0,408.0M680.0,114.0 705.0,116.0 730.0,114.0 755.0,117.0 780.0,116.0M815.0,142.5 820.0,150.0 835.0,153.8 855.0,162.5 865.0,170.0 860.0,180.0 875.0,187.5 887.5,192.5 900.0,197.5 905.0,202.5 895.0,210.0 890.0,215.0 875.0,210.0 865.0,205.0 860.0,210.0 872.5,217.5 880.0,227.5 885.0,235.0 875.0,235.0 860.0,232.5 870.0,245.0 880.0,255.0M795.0,220.0 820.0,222.5 840.0,235.0 855.0,245.0 870.0,255.0 880.0,255.0M464.0,158.0 468.0,163.0 450.0,173.0 436.0,181.0 432.0,179.0 454.0,165.0 440.0,167.0 420.0,170.0M468.0,159.0 474.0,165.0 482.0,171.0 486.0,165.0 492.0,171.0 500.0,167.0 520.0,171.0 540.0,177.0 552.0,181.0 548.0,187.0 560.0,189.0 572.0,187.0 586.0,189.0 596.0,195.0 600.0,201.0 602.0,191.0 612.0,185.0 630.0,189.0 644.0,189.0 660.0,187.0M528.0,145.0 540.0,133.0 550.0,131.0 558.0,137.0 572.0,135.0 580.0,139.0 588.0,133.0 598.0,145.0 596.0,131.0 612.0,127.0 620.0,129.0 616.0,139.0 620.0,153.0 636.0,165.0 644.0,167.0 640.0,172.0 620.0,175.0 608.0,171.0 596.0,175.0 580.0,173.0 560.0,175.0 544.0,165.0 536.0,163.0 556.0,163.0 572.0,161.0 560.0,157.0 534.0,157.0 532.0,151.0 546.0,151.0 540.0,147.0 528.0,145.0M488.0,119.0 504.0,117.0 524.0,121.0 544.0,125.0 532.0,133.0 516.0,143.0 508.0,151.0 500.0,153.0 496.0,149.0 482.0,143.0 486.0,133.0 490.0,125.0 488.0,119.0M558.0,114.0 568.0,118.0 586.0,114.0M634.0,125.0 646.0,125.0 648.0,131.0 640.0,137.0 634.0,135.0M650.0,145.0 660.0,151.0M596.0,181.0 612.0,177.0 606.0,185.0 596.0,185.0 596.0,181.0M684.0,125.0 708.0,123.0 712.0,127.0 696.0,133.0 688.0,139.0 680.0,135.0 680.0,127.0 684.0,125.0M634.0,133.0 646.0,127.0 668.0,125.0 660.0,133.0 672.0,139.0 674.0,145.0 660.0,149.0 644.0,141.0 634.0,137.0 634.0,133.0M718.0,143.0 724.0,131.0 740.0,127.0 738.0,137.0 740.0,149.0 752.0,155.0M750.0,133.0 776.0,127.0 800.0,131.0 808.0,135.0 790.0,138.0 780.0,143.0 770.0,140.0 760.0,145.0 750.0,140.0 750.0,133.0M812.0,145.0 824.0,151.0 840.0,153.0M776.0,159.0 792.0,163.0 800.0,171.0 816.0,177.0 830.0,185.0 834.0,197.0 820.0,205.0 822.0,213.0 832.0,221.0M720.0,151.0 730.0,157.0 740.0,165.0 748.0,169.0 752.0,177.0 744.0,185.0 736.0,195.0 728.0,189.0 720.0,177.0 712.0,167.0 704.0,165.0M600.0,125.0 616.0,127.0 612.0,139.0 618.0,149.0 634.0,157.0 640.0,167.0M672.0,149.0 684.0,147.0 694.0,151.0 704.0,165.0 700.0,173.0 696.0,181.0 684.0,185.0 680.0,195.0 674.0,181.0 660.0,177.0 656.0,173.0 664.0,169.0 676.0,165.0 674.0,155.0 672.0,149.0M710.0,173.0 720.0,177.0 730.0,189.0 732.0,195.0 740.0,191.0 748.0,181.0 748.0,169.0 760.0,169.0 770.0,175.0 766.0,183.0 772.0,193.0M712.0,209.0 728.0,213.0 740.0,205.0 752.0,201.0 756.0,209.0 744.0,217.0 740.0,229.0 748.0,237.0 764.0,227.0 770.0,231.0M758.0,241.0 766.0,239.0 770.0,245.0 762.0,247.0 758.0,241.0M780.0,247.0 786.0,245.0 788.0,253.0 782.0,255.0 780.0,247.0M800.0,217.0 796.0,225.0 808.0,225.0 816.0,213.0 824.0,201.0 836.0,197.0M800.0,185.0 808.0,183.0 814.0,190.0 806.0,195.0 800.0,185.0M740.0,220.0 730.0,224.0 716.0,230.0 708.0,232.0 700.0,242.0 694.0,252.0 688.0,260.0 686.0,270.0 684.0,280.0 694.0,286.0 700.0,300.0 708.0,300.0 720.0,304.0 730.0,310.0 736.0,316.0 752.0,322.0 768.0,326.0 766.0,340.0 772.0,360.0 784.0,368.0 790.0,360.0 792.0,340.0 786.0,328.0 800.0,322.0 806.0,308.0 804.0,296.0 794.0,286.0 800.0,278.0 800.0,264.0 796.0,256.0 798.0,246.0 820.0,246.0 832.0,232.0 840.0,240.0 856.0,242.0 872.0,250.0 884.0,260.0 848.0,262.0 850.0,284.0 860.0,290.0 874.0,284.0 884.0,272.0 890.0,290.0 898.0,296.0M782.0,310.0 788.0,308.0 790.0,314.0 784.0,316.0 782.0,310.0M931.4,113.4 939.7,124.0 949.3,134.9 943.3,139.6 942.1,149.2 954.0,150.4 963.6,146.8 970.8,152.8 975.6,162.3 980.0,163.0M980.0,158.0 965.0,157.0 951.7,160.0 949.3,169.5 961.2,171.9 975.6,167.1 980.0,168.0M980.0,176.0 965.0,178.0 958.8,181.4 962.0,186.0 956.4,191.0 958.8,205.3 968.4,212.5 968.4,226.8 975.6,224.4 978.0,238.8M980.0,185.0 966.0,185.0 962.0,192.0 972.0,195.0 980.0,193.0M402.0,275.0 410.0,281.0 416.0,290.0 422.0,298.0 427.0,306.0 430.0,314.0 424.0,312.0 418.0,303.0 410.0,292.0 404.0,284.0 402.0,275.0M412.0,286.0 420.0,295.0 426.0,304.0 421.0,304.0 414.0,295.0 412.0,286.0M431.0,316.0 436.0,324.0 440.0,331.0 436.0,332.0 431.0,324.0 431.0,316.0M445.0,335.0 452.0,344.0 458.0,351.0 454.0,354.0 447.0,346.0 445.0,335.0M462.0,352.0 470.0,360.0 476.0,368.0 471.0,370.0 464.0,362.0 462.0,352.0M912.5,440.5 914.5,441.0M869.0,546.5 870.5,547.5M160.0,352.5 162.0,353.5M901.1,724.9 901.9,725.7M902.5,733.1 905.0,735.6M904.0,741.4 906.0,743.4M905.2,749.5 906.8,751.0M906.5,757.5 908.0,759.0M905.2,765.5 906.8,767.0M915.8,765.8 916.8,766.8M900.8,778.0 902.2,779.5M881.5,718.0 882.5,719.0M901.5,791.0 908.0,792.0 906.0,799.0 901.0,799.0 901.5,791.0M496.6,388.0 681.7,388.0M681.7,388.0 681.7,384.0 684.0,384.3 685.3,391.2 692.6,392.2 699.8,396.5 715.6,398.6 718.9,399.6M492.0,417.1 496.6,417.7 500.5,424.0 508.4,423.5 515.0,423.0 520.9,420.8 525.0,419.8 538.5,419.8M538.5,419.8 537.7,415.3 537.7,388.0M538.5,419.8 541.3,425.1 539.0,430.4 536.7,437.8 538.0,442.0 537.8,462.2M490.6,462.2 577.1,462.2M518.3,462.2 518.3,493.9 553.6,536.3 556.7,543.7 554.4,551.2 553.0,560.5M537.2,562.5 553.0,560.5 552.5,562.8 577.0,575.2 595.9,575.2 595.9,570.4 606.9,570.4 613.0,575.5 617.6,582.9 620.2,591.4 628.1,597.8 633.4,599.9 640.6,591.4 643.2,594.6 646.5,603.1 653.1,615.8 656.4,627.4 666.9,631.7 668.6,632.2M557.4,462.2 557.4,515.1 557.4,523.6 553.1,524.7 553.6,536.3M577.1,462.2 577.1,435.7 568.9,435.1 564.3,436.7 561.0,430.4 554.4,424.0 555.8,413.4 546.6,403.9 544.2,398.6 544.2,388.0M577.1,430.4 623.2,430.4M577.1,462.2 577.1,472.8 623.2,472.8M623.2,388.0 623.2,472.8M590.3,472.8 590.3,575.2M557.4,515.1 685.2,515.1M623.2,472.8 636.3,472.8 636.3,515.1M636.3,483.4 680.7,483.4M630.1,515.1 630.1,568.1 606.3,568.1 606.9,570.4M630.1,520.4 649.8,520.4 649.8,541.0 653.1,542.7 659.7,548.0 669.6,549.0 676.1,548.0 682.7,551.2 686.1,550.7M685.2,520.4 686.5,532.1 686.1,550.7M689.0,551.7 689.0,557.5 707.9,557.5M689.0,557.5 689.0,568.2 692.2,578.7 691.3,589.3 690.3,592.5M680.7,483.4 685.3,492.9 685.2,515.1 685.2,520.4M685.2,520.4 714.6,520.4 713.2,525.7 717.6,525.7M623.2,451.6 659.7,451.6 666.3,453.7 672.2,456.9M672.2,456.9 675.5,467.5 677.4,477.0 680.7,483.4M623.2,420.4 672.4,420.4M668.0,388.0 668.6,398.6 670.9,409.2 672.4,420.4 673.2,427.2 673.2,446.3 672.2,456.9M673.2,446.3 707.6,446.3M677.6,477.0 704.2,477.0 706.4,479.1M701.8,412.4 700.5,419.8 697.5,426.1 697.2,432.5 704.4,441.0 707.6,446.3M707.6,446.3 711.0,455.8 714.3,464.3 709.0,468.5 706.4,479.1 711.0,490.8 714.9,496.1 718.2,506.7 721.2,515.1 718.9,520.4 717.6,525.7 714.9,536.3 709.7,546.9 708.0,557.5 708.7,568.1 705.1,578.7M711.4,456.9 730.1,456.9M731.4,429.3 730.1,426.1 728.1,420.8 722.2,419.8 716.3,416.6 713.0,413.4M731.8,464.7 731.8,490.8 732.0,495.0 729.4,502.4 728.4,506.7M721.2,515.1 725.5,514.1 728.4,506.7 734.0,505.6 738.6,505.6 742.6,502.4 747.2,497.1 749.8,492.9 757.0,497.1 764.3,500.3 768.2,495.0 772.8,489.7 776.1,485.5 778.0,476.6M749.7,465.3 749.7,492.9M736.5,464.7 749.7,465.3 758.7,465.0M718.9,520.4 728.4,519.4 770.3,519.4 808.5,519.9M757.2,519.4 766.2,512.0 768.4,509.8 773.5,512.0 779.4,508.8 783.3,500.3 791.9,492.9 795.8,489.2M768.4,509.8 764.3,502.4 764.3,500.3M795.8,489.2 792.6,486.5 787.9,488.6 784.7,491.8 784.8,486.3M797.2,490.8 800.4,495.0 801.1,501.4 805.7,505.6M778.0,486.3 809.1,486.3M778.0,476.6 778.0,459.3M783.0,462.2 811.9,462.2 816.2,468.5 812.9,477.0 813.6,483.4 811.0,486.5M809.1,486.3 809.7,499.8 813.9,499.8M816.2,468.9 821.5,472.8M823.1,472.8 824.1,461.6 825.6,454.2 825.2,430.4M824.1,461.6 835.3,461.9 838.1,462.2 839.8,467.5M835.3,461.9 835.0,469.6M825.6,454.2 831.0,454.5 838.6,454.7 841.9,452.9M831.0,454.5 832.0,445.2 834.7,437.8 837.3,430.4M840.0,427.2 842.5,450.7M816.2,430.4 837.3,430.4 840.0,427.2 847.1,415.5 852.3,404.4 858.3,407.1 861.6,405.5 861.8,420.8 866.2,429.3M816.2,430.4 808.3,437.8 805.7,445.2M713.6,536.3 753.1,536.3M770.3,519.4 768.2,524.7 757.7,531.0 753.1,536.3M727.4,536.3 728.1,537.4 725.8,578.7 726.1,585.1M744.5,536.3 747.2,559.6 748.5,566.0 748.5,578.7M731.4,578.7 748.5,578.7 749.4,581.9 766.9,582.5 767.9,585.5 771.5,581.9M731.4,578.7 732.0,586.1M705.1,578.7 717.4,578.7 718.2,587.2M753.1,536.3 761.0,534.2 766.2,536.3 774.8,534.2 776.1,538.4 783.3,538.4 790.9,548.5M761.0,534.2 762.3,541.6 768.2,552.2 772.8,563.9 775.6,567.6M736.5,464.7 739.9,456.9 738.6,446.3 740.6,435.7 744.5,430.4 748.5,426.1 749.8,421.9M750.5,421.9 759.0,430.4 758.4,441.0 755.7,445.2 761.6,441.0 765.6,451.6 761.6,459.0 758.7,465.0M731.4,429.3 732.7,426.1 738.0,421.9 745.2,420.8 750.5,419.8 754.4,417.7M751.8,414.5 743.2,412.4 738.0,415.0 732.7,413.4 728.8,409.2 730.1,403.9 724.8,408.1 718.9,411.8 713.0,413.4 709.0,412.4 701.8,412.4 705.7,407.1 715.6,400.7 718.9,398.6 722.8,394.4 727.4,390.1 735.3,389.1 741.9,392.2 749.1,399.6 751.1,409.2 751.8,414.5M730.1,456.9 730.7,446.3 732.0,435.7 734.0,428.3 731.4,432.5 728.8,435.7 731.4,429.3M730.1,456.9 731.8,464.7 734.0,466.4 736.5,464.7M758.7,465.0 763.6,468.5 770.2,467.5 778.1,462.2 786.0,456.9 788.6,452.6 781.4,453.7 773.5,455.8 766.9,459.0 761.0,462.2 758.7,465.0M786.6,449.4 794.5,448.4 801.1,448.4 806.4,446.3 805.1,439.9 797.8,442.0 791.2,442.0 784.7,445.2 786.6,449.4M765.6,451.6 770.2,445.2 772.8,435.7 770.8,428.3 775.5,434.6 781.4,435.7 780.1,427.2 771.5,419.8 761.6,417.7 755.1,419.8 754.4,417.7M487.4,394.4 488.0,399.6 490.6,409.2 492.0,416.6 492.3,425.1 491.6,434.6 490.0,447.3 488.7,453.7 490.6,462.2 491.3,472.8 489.3,479.1 493.3,487.6 493.9,495.0 498.5,501.4 501.8,506.7 502.5,513.0 505.8,519.4 508.4,525.7 512.3,532.1 514.3,540.6 520.2,542.7 526.2,546.9 528.8,549.0 532.7,552.2 536.0,557.5 537.2,562.5 540.0,570.2 542.6,578.7 545.2,585.1 551.2,593.5 555.8,601.0 557.1,610.5 550.5,612.1 555.8,619.0 561.0,625.3 568.9,631.7 570.2,642.3 574.2,649.7 581.4,658.2 584.7,664.5 588.0,658.2 582.1,650.8 579.4,642.3 575.5,631.7 570.9,621.1 565.6,610.5 561.0,599.9 555.1,589.3 552.5,578.7 553.1,571.3 561.0,575.5 565.6,584.0 568.9,594.6 571.5,602.0 577.5,611.5 584.0,621.1 588.6,626.4 593.9,637.0 598.5,646.5 607.7,661.3 613.0,674.1 615.6,681.5 615.0,688.9 616.9,700.5 621.5,705.8 630.1,714.3 636.7,718.6 643.2,724.9 650.5,729.2 659.7,734.5 669.6,738.7 674.8,740.8 682.7,736.6 686.0,735.5 691.9,740.8 699.2,749.3 705.7,758.8 712.3,759.9 720.2,765.2 727.4,767.3 732.0,769.4 731.4,773.7 736.6,780.0 741.9,787.4 743.9,792.7 743.9,801.2 747.8,806.5M761.6,806.5 760.3,801.2 757.0,790.6 757.7,780.0 758.4,769.4 759.7,758.8 760.3,748.2 751.8,739.7 741.9,738.7 732.0,739.7 724.8,740.8 722.8,736.6 726.8,732.3 727.4,721.7 728.8,711.1 732.0,700.5 735.3,690.0 736.6,679.4 732.0,679.4 725.5,681.5 718.9,681.5 713.6,684.7 712.3,695.2 709.0,705.8 703.8,710.1 695.9,712.2 686.0,714.3 679.4,710.1 675.5,703.7 672.2,695.2 667.6,684.7 664.3,674.1 664.3,663.5 664.9,652.9 666.3,642.3 668.6,632.2 666.9,623.2 668.2,612.6 672.2,606.3 678.8,601.0 684.0,596.7 690.6,592.5 699.2,592.5 705.7,596.7 712.3,597.8 719.5,599.9 719.5,591.4 718.2,587.2 725.5,585.1 732.0,586.1 738.6,585.1 745.9,589.3 749.1,592.5 753.7,589.3 759.7,594.6 763.6,602.0 763.0,610.5 764.3,617.9 768.2,626.4 770.2,632.7 774.1,640.2 778.1,641.2 780.4,633.8 781.0,623.2 777.8,610.5 777.4,605.2 773.5,594.6 771.8,585.1 773.5,573.4 775.5,567.1 782.0,559.6 787.9,551.2 795.8,544.8 803.7,539.5 811.0,534.2 810.3,525.7 807.7,516.2 805.7,515.1 805.7,509.8 805.1,499.2 807.0,488.6 808.3,495.0 808.3,504.5 808.0,513.0 810.3,509.8 813.6,501.4 813.6,496.1 818.2,489.7 820.5,483.4 820.8,478.1 822.8,472.8 830.7,470.6 837.3,469.6 840.6,467.5 845.2,466.4 847.5,464.3 845.8,462.2 841.2,459.0 841.9,453.7 845.2,446.3 850.4,441.0 858.3,436.7 863.6,434.6 866.9,431.4 866.2,429.3M820.8,477.0 827.4,475.9 834.7,471.7 822.2,473.8 820.8,477.0M866.2,429.3 873.5,427.2 881.4,424.0 884.6,421.4 882.7,414.5 880.0,407.1 882.7,400.7 873.5,398.6 884.6,393.3 885.3,390.1 880.0,385.9 870.2,384.8 860.3,388.0 853.7,393.3 847.1,403.9 839.3,411.3 845.2,403.9 855.0,393.3 860.3,385.9 870.2,377.4 886.6,375.3 899.8,375.3 912.9,374.2 931.3,362.6 941.2,354.1 940.5,342.4 929.4,329.7 916.2,322.3 911.6,319.1 903.1,308.5 901.1,297.9 894.5,287.3 887.9,276.7 882.7,267.2M872.8,443.1 874.8,434.6 884.6,427.2 884.6,421.4 894.5,423.0 903.1,424.0 911.6,416.6 909.0,409.2 903.7,413.4 903.1,423.0 906.3,424.0 901.1,428.3 889.2,434.6 880.0,441.0 875.4,446.3 872.8,443.1M886.6,419.8 893.2,414.5 899.8,415.5 896.5,419.8 886.6,417.7 886.6,419.8M884.6,383.8 887.9,378.5 901.7,382.7 896.5,386.9 884.6,383.8M942.5,360.4 930.7,368.9 926.1,382.7 918.2,393.3 917.5,402.8 929.4,402.8 939.9,409.2 942.5,411.3 951.1,408.1 955.7,412.4 960.9,403.9 959.0,398.6 955.7,392.2 954.4,384.8 949.1,381.6 942.5,378.5 938.6,372.1 942.5,360.4M748.8,675.6 755.1,668.8 761.6,663.5 768.2,661.9 774.8,661.3 781.4,664.5 791.2,669.8 799.1,676.2 805.7,682.5 811.0,685.7 819.9,693.1 812.9,696.3 804.4,696.3 796.5,697.4 794.5,690.0 789.9,684.7 784.7,679.4 778.1,677.2 774.8,673.0 769.5,671.9 764.9,674.1 759.7,667.7 748.8,675.6M824.8,698.4 817.9,713.3 827.4,716.4 837.3,714.3 837.9,720.7 847.1,712.2 857.0,712.2 858.3,709.0 852.4,702.7 847.1,698.4 837.3,696.3 828.7,696.3 824.8,698.4M792.6,711.1 801.1,711.1 805.7,714.3 803.1,717.5 796.5,717.5 791.9,714.3 792.6,711.1M865.6,711.1 876.1,711.1 876.1,716.4 865.6,716.4 865.6,711.1M282.1,693.1 283.4,705.8 289.4,700.5 282.1,693.1M277.5,684.7 281.5,688.9 278.2,686.8 277.5,684.7M267.0,678.3 270.3,681.5 267.7,680.4 267.0,678.3M257.8,671.9 259.8,674.1 257.8,675.1 257.8,671.9M700.9,753.2 702.0,747.5 704.2,736.9 712.6,736.9 709.1,724.4 709.0,718.3 721.2,718.3 720.9,738.7 727.4,740.8M726.8,711.1 721.2,718.3M727.4,740.8 720.9,749.3 719.5,754.6 714.9,762.0M719.5,754.6 728.8,759.9 730.1,765.2M733.4,769.4 741.9,760.9 748.5,750.3 760.3,748.2M743.9,789.5 755.1,791.7 757.4,791.7M788.6,625.3 795.2,624.3 791.9,626.4 788.6,625.3M797.8,622.1 799.8,631.7 799.1,627.4 797.8,622.1M793.9,641.2 795.8,650.8 793.2,646.5 793.9,641.2M803.1,637.0 806.4,644.4 804.4,640.2 803.1,637.0M810.3,646.5 811.6,650.8M813.6,660.3 814.9,664.5M820.8,668.8 821.5,671.9M823.5,683.6 826.1,685.7M807.7,656.0 809.0,659.2M799.1,806.5 811.0,797.0 815.6,790.6 824.1,788.5 830.7,782.1 836.0,775.8 838.6,784.2 836.6,790.6 836.6,794.8 839.3,790.6 845.8,785.3 847.1,777.9 854.0,784.0 859.6,794.9 872.5,794.9 883.5,790.0 900.0,793.5 902.4,801.2" fill="none" stroke="#000" stroke-width="2.1" stroke-linejoin="round" stroke-linecap="round"/><path d="M350.0,159.0 275.0,144.0 208.0,176.7 208.0,186.7 221.7,196.7 195.8,208.3 208.3,229.0 234.0,229.0 221.0,240.0 209.0,250.5 215.0,261.0 202.0,271.5 215.8,282.8 221.0,272.0 248.0,292.5 267.5,292.5 261.5,303.0 195.5,335.0 195.5,356.0 261.5,324.8 279.5,303.8 294.5,314.2 320.0,282.8 341.0,282.8 346.0,271.5 386.0,282.0 400.0,297.0 438.0,336.0 452.0,336.0 452.0,314.0 420.0,272.0 400.0,271.0 399.5,271.5 380.0,261.0 380.0,165.0 350.0,159.0M484.0,377.0 727.0,377.0 762.0,420.0 768.0,430.0 768.0,451.0 760.0,462.0 768.0,462.0 786.0,442.0 798.0,442.0 807.0,430.0 834.0,430.0 854.0,399.0 860.0,399.0 866.0,408.0 872.0,430.0 870.0,442.0 846.0,451.0 853.0,472.0 828.0,483.0 814.0,514.0 813.0,536.0 792.0,560.0 775.7,580.0 786.7,642.3 768.3,642.3 754.6,599.2 695.0,599.2 674.8,609.3 667.5,640.5 653.8,631.0 641.5,599.2 623.0,599.2 608.6,578.6 575.7,578.6 518.0,557.0 499.6,520.0 484.0,480.0 484.0,377.0" fill="none" stroke="#FFFF00" stroke-width="1.3" stroke-linejoin="miter"/><path d="M373.0,270.0 373.0,165.0 415.0,161.7 466.7,155.0 490.0,161.7 530.0,168.3 563.0,178.3 613.0,190.0 663.0,203.3 720.0,218.3 786.7,236.7 840.0,250.0 885.0,261.2 910.0,312.0 937.8,334.3 964.7,399.2 958.3,419.0 931.4,409.5 901.3,431.0 872.0,451.0 859.0,409.0 854.0,409.0 840.0,430.0 812.0,430.0 786.0,451.0 700.0,388.0 491.0,388.0 484.0,398.0 458.0,372.0 432.0,344.0 426.0,324.0 446.0,324.0 446.0,314.0 420.0,282.0 400.0,280.0 383.0,270.0 373.0,270.0" fill="none" stroke="#00FFFF" stroke-width="1.3" stroke-linejoin="miter"/></g><rect x="156.5" y="112.5" width="822.2" height="688.7" fill="none" stroke="#000" stroke-width="1.2"/><text x="248.2" y="823" font-size="20" text-anchor="middle" fill="#000" stroke="#fff" stroke-width="0.4">&#8722;160</text><text x="379.7" y="823" font-size="20" text-anchor="middle" fill="#000" stroke="#fff" stroke-width="0.4">&#8722;140</text><text x="511.3" y="823" font-size="20" text-anchor="middle" fill="#000" stroke="#fff" stroke-width="0.4">&#8722;120</text><text x="642.8" y="823" font-size="20" text-anchor="middle" fill="#000" stroke="#fff" stroke-width="0.4">&#8722;100</text><text x="774.4" y="823" font-size="20" text-anchor="middle" fill="#000" stroke="#fff" stroke-width="0.4">&#8722;80</text><text x="905.9" y="823" font-size="20" text-anchor="middle" fill="#000" stroke="#fff" stroke-width="0.4">&#8722;60</text><text x="148" y="805.7" font-size="20" text-anchor="end" fill="#000" stroke="#fff" stroke-width="0.4">10</text><text x="148" y="699.7" font-size="20" text-anchor="end" fill="#000" stroke="#fff" stroke-width="0.4">20</text><text x="148" y="593.8" font-size="20" text-anchor="end" fill="#000" stroke="#fff" stroke-width="0.4">30</text><text x="148" y="487.8" font-size="20" text-anchor="end" fill="#000" stroke="#fff" stroke-width="0.4">40</text><text x="148" y="381.9" font-size="20" text-anchor="end" fill="#000" stroke="#fff" stroke-width="0.4">50</text><text x="148" y="275.9" font-size="20" text-anchor="end" fill="#000" stroke="#fff" stroke-width="0.4">60</text><text x="148" y="170.0" font-size="20" text-anchor="end" fill="#000" stroke="#fff" stroke-width="0.4">70</text><text x="569" y="845" font-size="18.7" font-weight="bold" text-anchor="middle" fill="#000">Longitude</text><text transform="translate(111.5,454) rotate(-90)" font-size="18.7" font-weight="bold" text-anchor="middle" fill="#000">Latitude</text><text transform="translate(565,20.5) scale(1,0.86)" font-size="25" text-anchor="middle" fill="#000">Shadow OKC LPV200 Coverage Contours</text><text transform="translate(565,45.5) scale(1,0.86)" font-size="25" text-anchor="middle" fill="#000">01/30/26</text><text transform="translate(565,71.0) scale(1,0.86)" font-size="25" text-anchor="middle" fill="#000">Week 2403 Day 5</text><rect x="1010.5" y="791.44" width="42" height="11.06" fill="#00008F"/><rect x="1010.5" y="780.67" width="42" height="11.06" fill="#00009F"/><rect x="1010.5" y="769.91" width="42" height="11.06" fill="#0000AF"/><rect x="1010.5" y="759.14" width="42" height="11.06" fill="#0000BF"/><rect x="1010.5" y="748.38" width="42" height="11.06" fill="#0000CF"/><rect x="1010.5" y="737.62" width="42" height="11.06" fill="#0000DF"/><rect x="1010.5" y="726.85" width="42" height="11.06" fill="#0000EF"/><rect x="1010.5" y="716.09" width="42" height="11.06" fill="#0000FF"/><rect x="1010.5" y="705.32" width="42" height="11.06" fill="#0010FF"/><rect x="1010.5" y="694.56" width="42" height="11.06" fill="#0020FF"/><rect x="1010.5" y="683.80" width="42" height="11.06" fill="#0030FF"/><rect x="1010.5" y="673.03" width="42" height="11.06" fill="#0040FF"/><rect x="1010.5" y="662.27" width="42" height="11.06" fill="#0050FF"/><rect x="1010.5" y="651.50" width="42" height="11.06" fill="#0060FF"/><rect x="1010.5" y="640.74" width="42" height="11.06" fill="#0070FF"/><rect x="1010.5" y="629.98" width="42" height="11.06" fill="#0080FF"/><rect x="1010.5" y="619.21" width="42" height="11.06" fill="#008FFF"/><rect x="1010.5" y="608.45" width="42" height="11.06" fill="#009FFF"/><rect x="1010.5" y="597.68" width="42" height="11.06" fill="#00AFFF"/><rect x="1010.5" y="586.92" width="42" height="11.06" fill="#00BFFF"/><rect x="1010.5" y="576.15" width="42" height="11.06" fill="#00CFFF"/><rect x="1010.5" y="565.39" width="42" height="11.06" fill="#00DFFF"/><rect x="1010.5" y="554.63" width="42" height="11.06" fill="#00EFFF"/><rect x="1010.5" y="543.86" width="42" height="11.06" fill="#00FFFF"/><rect x="1010.5" y="533.10" width="42" height="11.06" fill="#10FFEF"/><rect x="1010.5" y="522.33" width="42" height="11.06" fill="#20FFDF"/><rect x="1010.5" y="511.57" width="42" height="11.06" fill="#30FFCF"/><rect x="1010.5" y="500.81" width="42" height="11.06" fill="#40FFBF"/><rect x="1010.5" y="490.04" width="42" height="11.06" fill="#50FFAF"/><rect x="1010.5" y="479.28" width="42" height="11.06" fill="#60FF9F"/><rect x="1010.5" y="468.51" width="42" height="11.06" fill="#70FF8F"/><rect x="1010.5" y="457.75" width="42" height="11.06" fill="#80FF80"/><rect x="1010.5" y="446.99" width="42" height="11.06" fill="#8FFF70"/><rect x="1010.5" y="436.22" width="42" height="11.06" fill="#9FFF60"/><rect x="1010.5" y="425.46" width="42" height="11.06" fill="#AFFF50"/><rect x="1010.5" y="414.69" width="42" height="11.06" fill="#BFFF40"/><rect x="1010.5" y="403.93" width="42" height="11.06" fill="#CFFF30"/><rect x="1010.5" y="393.17" width="42" height="11.06" fill="#DFFF20"/><rect x="1010.5" y="382.40" width="42" height="11.06" fill="#EFFF10"/><rect x="1010.5" y="371.64" width="42" height="11.06" fill="#FFFF00"/><rect x="1010.5" y="360.87" width="42" height="11.06" fill="#FFEF00"/><rect x="1010.5" y="350.11" width="42" height="11.06" fill="#FFDF00"/><rect x="1010.5" y="339.35" width="42" height="11.06" fill="#FFCF00"/><rect x="1010.5" y="328.58" width="42" height="11.06" fill="#FFBF00"/><rect x="1010.5" y="317.82" width="42" height="11.06" fill="#FFAF00"/><rect x="1010.5" y="307.05" width="42" height="11.06" fill="#FF9F00"/><rect x="1010.5" y="296.29" width="42" height="11.06" fill="#FF8F00"/><rect x="1010.5" y="285.52" width="42" height="11.06" fill="#FF8000"/><rect x="1010.5" y="274.76" width="42" height="11.06" fill="#FF7000"/><rect x="1010.5" y="264.00" width="42" height="11.06" fill="#FF6000"/><rect x="1010.5" y="253.23" width="42" height="11.06" fill="#FF5000"/><rect x="1010.5" y="242.47" width="42" height="11.06" fill="#FF4000"/><rect x="1010.5" y="231.70" width="42" height="11.06" fill="#FF3000"/><rect x="1010.5" y="220.94" width="42" height="11.06" fill="#FF2000"/><rect x="1010.5" y="210.18" width="42" height="11.06" fill="#FF1000"/><rect x="1010.5" y="199.41" width="42" height="11.06" fill="#FF0000"/><rect x="1010.5" y="188.65" width="42" height="11.06" fill="#EF0000"/><rect x="1010.5" y="177.88" width="42" height="11.06" fill="#DF0000"/><rect x="1010.5" y="167.12" width="42" height="11.06" fill="#CF0000"/><rect x="1010.5" y="156.36" width="42" height="11.06" fill="#BF0000"/><rect x="1010.5" y="145.59" width="42" height="11.06" fill="#AF0000"/><rect x="1010.5" y="134.83" width="42" height="11.06" fill="#9F0000"/><rect x="1010.5" y="124.06" width="42" height="11.06" fill="#8F0000"/><rect x="1010.5" y="113.30" width="42" height="11.06" fill="#800000"/><rect x="1010.5" y="113.3" width="42" height="688.9" fill="none" stroke="#000" stroke-width="1.2"/><path d="M1010.5 113.3h6.5M1052.5 113.3h-6.5" stroke="#000" stroke-width="1"/><text x="1058" y="120.3" font-size="20" fill="#000" style="font-family:'Liberation Sans',sans-serif">1</text><path d="M1010.5 342.9h6.5M1052.5 342.9h-6.5" stroke="#000" stroke-width="1"/><text x="1058" y="349.9" font-size="20" fill="#000" style="font-family:'Liberation Sans',sans-serif">0.95</text><path d="M1010.5 572.6h6.5M1052.5 572.6h-6.5" stroke="#000" stroke-width="1"/><text x="1058" y="579.6" font-size="20" fill="#000" style="font-family:'Liberation Sans',sans-serif">0.9</text><path d="M1010.5 802.2h6.5M1052.5 802.2h-6.5" stroke="#000" stroke-width="1"/><text x="1058" y="809.2" font-size="20" fill="#000" style="font-family:'Liberation Sans',sans-serif">0.85</text><text x="162" y="530.5" font-size="15" fill="#000" xml:space="preserve">Percent|&#160;CONUS&#160;&#160;&#160;|&#160;Alaska&#160;&#160;|&#160;Canada</text><text x="162" y="551.5" font-size="15" fill="#000" xml:space="preserve">&#160;Avail.|Coverage&#160;|Coverage&#160;|&#160;Coverage</text><text x="162" y="562.0" font-size="15" fill="#000" xml:space="preserve">--------------------------------------</text><text x="162" y="573.0" font-size="15" fill="#000" xml:space="preserve">&#160;&#160;95&#160;&#160;&#160;|&#160;100.00%&#160;&#160;|&#160;98.99%&#160;|&#160;99.49%</text><text x="162" y="594.0" font-size="15" fill="#000" xml:space="preserve">&#160;&#160;98&#160;&#160;&#160;|&#160;100.00%&#160;&#160;|&#160;84.62%&#160;|&#160;81.74%</text><text x="162" y="615.0" font-size="15" fill="#000" xml:space="preserve">&#160;&#160;99&#160;&#160;&#160;|&#160;99.78%&#160;&#160;|&#160;69.54%&#160;|&#160;74.93%</text><text x="162" y="636.0" font-size="15" fill="#000" xml:space="preserve">99.9&#160;&#160;&#160;|&#160;97.00%&#160;&#160;|&#160;57.53%&#160;|&#160;66.25%</text><text x="162" y="657.0" font-size="15" fill="#000" xml:space="preserve">&#160;100&#160;&#160;&#160;|&#160;96.22%&#160;&#160;|&#160;56.61%&#160;|&#160;65.84%</text><text x="187" y="746.7" font-size="10" fill="#000">W.J.H. FAA Technical Center</text><text x="187" y="759.7" font-size="10" fill="#000">WAAS Test Team</text></svg></body></html>
